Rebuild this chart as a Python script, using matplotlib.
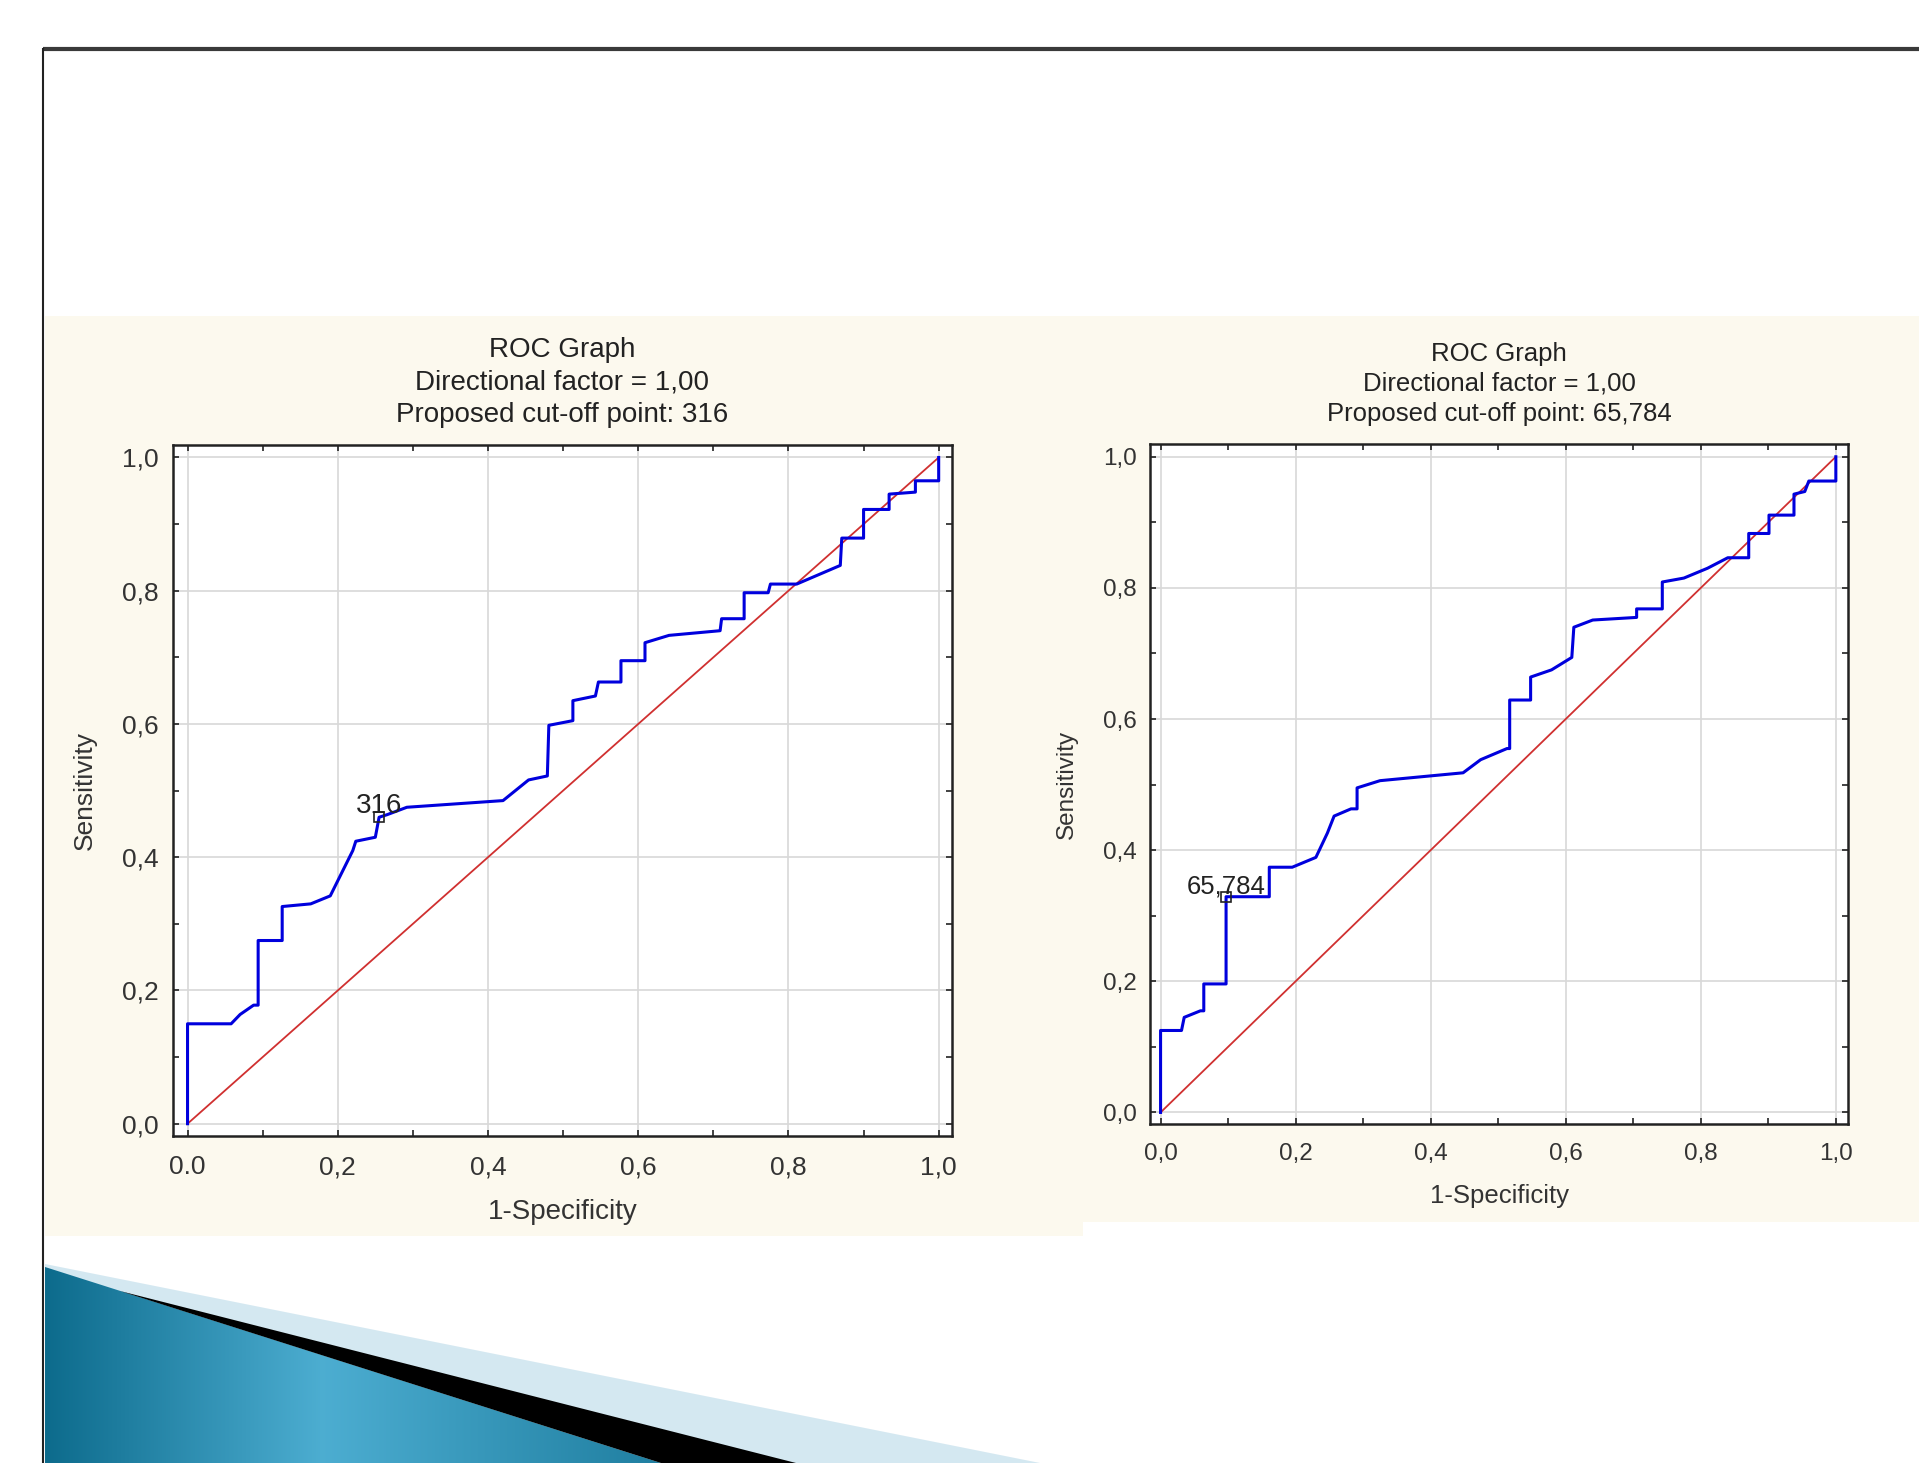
import matplotlib
matplotlib.use("Agg")
import matplotlib.pyplot as plt
import numpy as np
from matplotlib.patches import Polygon, Rectangle

W, H = 1919, 1463

# left ROC curve (1-specificity, sensitivity)
left_fpr = [0, 0, 0.058, 0.07, 0.088, 0.094, 0.094, 0.126, 0.126, 0.164, 0.19, 0.22,
            0.224, 0.25, 0.255, 0.266, 0.292, 0.42, 0.454, 0.479, 0.481, 0.513, 0.513,
            0.543, 0.547, 0.577, 0.577, 0.609, 0.609, 0.641, 0.709, 0.711, 0.741, 0.741,
            0.773, 0.776, 0.811, 0.869, 0.871, 0.9, 0.9, 0.934, 0.934, 0.969, 0.969,
            1.0, 1.0]
left_tpr = [0, 0.15, 0.15, 0.164, 0.178, 0.178, 0.275, 0.275, 0.326, 0.33, 0.342, 0.41,
            0.424, 0.43, 0.46, 0.464, 0.475, 0.485, 0.516, 0.522, 0.598, 0.605, 0.635,
            0.642, 0.663, 0.663, 0.695, 0.695, 0.722, 0.733, 0.74, 0.758, 0.758, 0.797,
            0.797, 0.81, 0.81, 0.838, 0.879, 0.879, 0.922, 0.922, 0.945, 0.948, 0.965,
            0.965, 1.0]
left_cut = (0.255, 0.46)
left_cut_label = "316"

# right ROC curve
right_fpr = [0, 0, 0.031, 0.035, 0.059, 0.064, 0.064, 0.097, 0.097, 0.161, 0.161, 0.195,
             0.23, 0.247, 0.257, 0.282, 0.291, 0.291, 0.325, 0.448, 0.474, 0.513, 0.517,
             0.517, 0.548, 0.548, 0.579, 0.609, 0.612, 0.64, 0.705, 0.705, 0.743, 0.743,
             0.775, 0.81, 0.84, 0.871, 0.871, 0.901, 0.901, 0.938, 0.938, 0.954, 0.96,
             1.0, 1.0]
right_tpr = [0, 0.125, 0.125, 0.145, 0.155, 0.155, 0.196, 0.196, 0.329, 0.329, 0.374, 0.374,
             0.389, 0.426, 0.452, 0.463, 0.463, 0.495, 0.506, 0.518, 0.538, 0.555, 0.555,
             0.629, 0.629, 0.664, 0.675, 0.694, 0.74, 0.751, 0.755, 0.768, 0.768, 0.809,
             0.815, 0.83, 0.846, 0.846, 0.883, 0.883, 0.911, 0.911, 0.943, 0.947, 0.963,
             0.963, 1.0]
right_cut = (0.097, 0.329)
right_cut_label = "65,784"

ticks = [0, 0.2, 0.4, 0.6, 0.8, 1.0]
left_xlabels = ["0.0", "0,2", "0,4", "0,6", "0,8", "1,0"]
left_ylabels = ["0,0", "0,2", "0,4", "0,6", "0,8", "1,0"]
right_labels = ["0,0", "0,2", "0,4", "0,6", "0,8", "1,0"]

plt.rcParams['font.family'] = ['Liberation Sans', 'DejaVu Sans']

fig = plt.figure(figsize=(W / 100, H / 100), dpi=100)
fig.patch.set_facecolor('white')

# slide background layer in pixel coordinates
bg = fig.add_axes([0, 0, 1, 1], zorder=-5)
bg.set_xlim(0, W)
bg.set_ylim(H, 0)
bg.axis('off')

beige = '#FCF9EE'
bg.add_patch(Rectangle((45, 316), 1038, 920, color=beige, lw=0))
bg.add_patch(Rectangle((1083, 316), 836, 906, color=beige, lw=0))

# slide frame
bg.plot([43, W], [49, 49], color='#3a3a3a', lw=3, solid_capstyle='butt')
bg.plot([43, 43], [49, H], color='#222222', lw=1.5)

# bottom-left decoration
bg.add_patch(Polygon([(45, 1264), (1040, 1463), (45, 1463)], color='#D4E8F1', lw=0))
teal = Polygon([(45, 1267), (661, 1463), (45, 1463)], closed=True, lw=0, fc='none')
bg.add_patch(teal)
grad = np.linspace(0, 1, 300)
cols = np.interp(grad, [0, 0.45, 1], [0.0, 1.0, 0.3])
img = np.zeros((1, 300, 3))
dark = np.array([0.05, 0.42, 0.55])
light = np.array([0.30, 0.68, 0.82])
for i, c in enumerate(cols):
    img[0, i] = dark + (light - dark) * c
im = bg.imshow(img, extent=(45, 661, 1463, 1267), aspect='auto', zorder=1)
im.set_clip_path(teal)
bg.add_patch(Polygon([(120, 1291), (796, 1463), (661, 1463)], color='black', lw=0, zorder=2))


def roc_panel(ax, fpr, tpr, cut, cut_label, xlabels, ylabels, titles, fs, lims, ylpad):
    ax.set_facecolor('white')
    ax.plot([0, 1], [0, 1], color='#D03030', lw=1.3, zorder=2)
    ax.plot(fpr, tpr, color='#0000DD', lw=2.2, zorder=3)
    ax.plot([cut[0]], [cut[1]], marker='s', ms=7, mfc='none', mec='#222222', mew=1.2, zorder=4)
    ax.text(cut[0], cut[1] - 0.002, cut_label, ha='center', va='bottom',
            fontsize=fs + 1, color='#222222')
    ax.set_xlim(lims[0])
    ax.set_ylim(lims[1])
    ax.set_xticks(ticks)
    ax.set_yticks(ticks)
    ax.set_xticks(np.arange(0.1, 1.0, 0.2), minor=True)
    ax.set_yticks(np.arange(0.1, 1.0, 0.2), minor=True)
    ax.set_xticklabels(xlabels, fontsize=fs, color='#333333')
    ax.set_yticklabels(ylabels, fontsize=fs, color='#333333')
    ax.tick_params(which='both', direction='in', length=4, width=1.2, top=True, right=True,
                   color='#222222')
    ax.tick_params(axis='x', pad=14)
    ax.tick_params(axis='y', pad=10)
    ax.grid(True, which='major', color='#D8D8D8', lw=1.2)
    ax.set_axisbelow(True)
    for s in ax.spines.values():
        s.set_linewidth(1.8)
        s.set_color('#222222')
    ax.set_xlabel("1-Specificity", fontsize=fs + 1, color='#333333', labelpad=14)
    ax.set_ylabel("Sensitivity", fontsize=fs, color='#333333', labelpad=ylpad)
    ax.set_title("\n".join(titles), fontsize=fs + 1, color='#222222', linespacing=1.32, pad=17)


axl = fig.add_axes([0.0899, 0.2237, 0.4063, 0.4718])
roc_panel(axl, left_fpr, left_tpr, left_cut, left_cut_label, left_xlabels, left_ylabels,
          ["ROC Graph", "Directional factor = 1,00", "Proposed cut-off point: 316"], 19,
          ((-0.02, 1.018), (-0.018, 1.018)), 18)

axr = fig.add_axes([0.5995, 0.232, 0.3635, 0.4643])
roc_panel(axr, right_fpr, right_tpr, right_cut, right_cut_label, right_labels, right_labels,
          ["ROC Graph", "Directional factor = 1,00", "Proposed cut-off point: 65,784"], 17.5,
          ((-0.015, 1.018), (-0.017, 1.019)), 18)

fig.savefig("out.png", dpi=100, facecolor=fig.get_facecolor())
